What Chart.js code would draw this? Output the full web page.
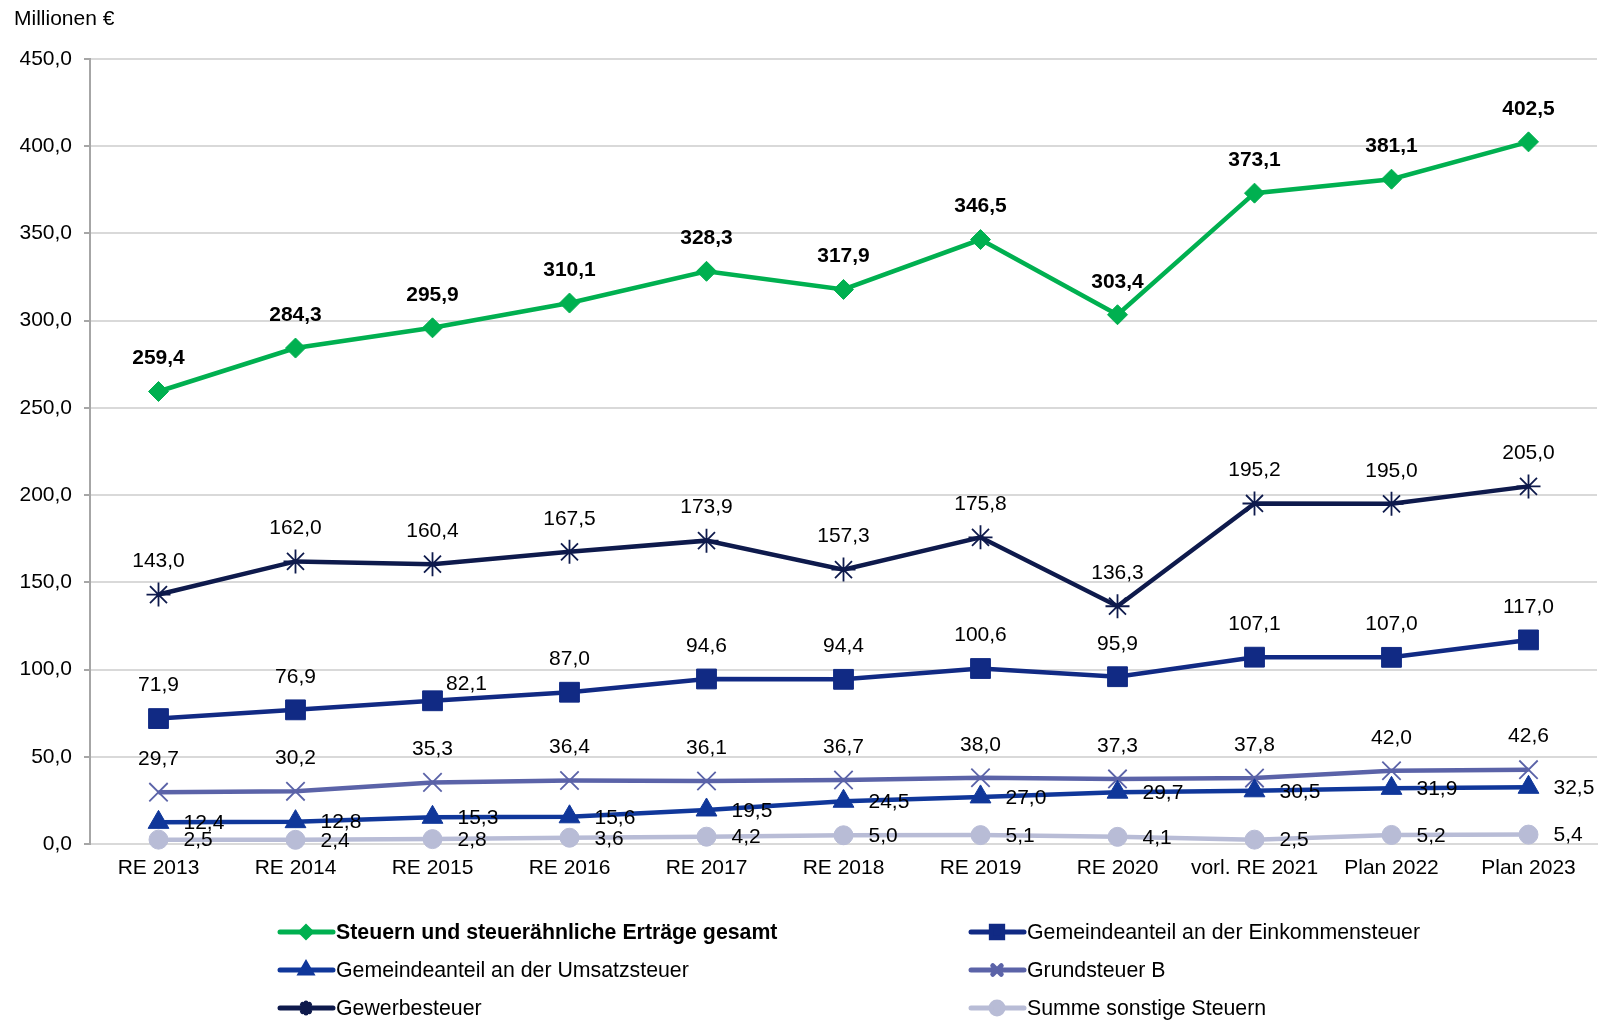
<!DOCTYPE html>
<html>
<head>
<meta charset="utf-8">
<script src="https://cdn.jsdelivr.net/npm/chart.js@4/dist/chart.umd.min.js"></script>
<style>
  html, body { margin: 0; padding: 0; background: #fff; overflow: hidden; }
  #myChart { display: block; }
</style>
</head>
<body>
<canvas id="myChart" width="1603" height="1020"></canvas>
<script>
var years = ['RE 2013', 'RE 2014', 'RE 2015', 'RE 2016', 'RE 2017', 'RE 2018', 'RE 2019', 'RE 2020', 'vorl. RE 2021', 'Plan 2022', 'Plan 2023'];

var gesamt = [259.4, 284.3, 295.9, 310.1, 328.3, 317.9, 346.5, 303.4, 373.1, 381.1, 402.5];
var einkommen = [71.9, 76.9, 82.1, 87.0, 94.6, 94.4, 100.6, 95.9, 107.1, 107.0, 117.0];
var umsatz = [12.4, 12.8, 15.3, 15.6, 19.5, 24.5, 27.0, 29.7, 30.5, 31.9, 32.5];
var grundB = [29.7, 30.2, 35.3, 36.4, 36.1, 36.7, 38.0, 37.3, 37.8, 42.0, 42.6];
var gewerbe = [143.0, 162.0, 160.4, 167.5, 173.9, 157.3, 175.8, 136.3, 195.2, 195.0, 205.0];
var sonstige = [2.5, 2.4, 2.8, 3.6, 4.2, 5.0, 5.1, 4.1, 2.5, 5.2, 5.4];

var FONT = '"Liberation Sans", Arial, sans-serif';

function fmt(v) {
  return v.toFixed(1).replace('.', ',');
}

// labels, legend and the unit text, drawn straight on the canvas
var extras = {
  id: 'extras',
  afterDatasetsDraw(chart) {
    var ctx = chart.ctx;
    ctx.save();
    chart.data.datasets.forEach(function(ds, i) {
      var meta = chart.getDatasetMeta(i);
      ctx.font = (ds.labelBold ? 'bold ' : '') + '21px ' + FONT;
      ctx.fillStyle = '#000';
      meta.data.forEach(function(pt, j) {
        var txt = fmt(ds.data[j]);
        if (ds.labelPos === 'right') {
          ctx.textAlign = 'left';
          ctx.textBaseline = 'middle';
          ctx.fillText(txt, pt.x + 25, pt.y + 1);
        } else {
          ctx.textAlign = 'center';
          ctx.textBaseline = 'middle';
          var dx = 0, dy = -33;
          // this one was moved aside in the original
          if (ds.label.indexOf('Einkommen') >= 0 && j === 2) { dx = 34; dy = -17; }
          ctx.fillText(txt, pt.x + dx, pt.y + dy);
        }
      });
    });

    // unit
    ctx.font = '21px ' + FONT;
    ctx.textAlign = 'left';
    ctx.textBaseline = 'middle';
    ctx.fillText('Millionen €', 14, 19);

    // legend, two columns
    var cols = [278, 969];
    var rows = [932, 970, 1008];
    chart.data.datasets.forEach(function(ds, i) {
      var x = cols[i % 2], y = rows[Math.floor(i / 2)];
      ctx.strokeStyle = ds.borderColor;
      ctx.lineWidth = 5;
      ctx.lineCap = 'round';
      ctx.beginPath();
      ctx.moveTo(x + 2, y);
      ctx.lineTo(x + 55, y);
      ctx.stroke();
      ctx.fillStyle = ds.backgroundColor;
      ctx.strokeStyle = ds.borderColor;
      Chart.helpers.drawPoint(ctx, {
        pointStyle: ds.pointStyle,
        radius: ds.legendRadius,
        rotation: 0,
        borderWidth: 1.5
      }, x + 28, y);
      ctx.fillStyle = '#000';
      ctx.font = (ds.labelBold ? 'bold ' : '') + '21.3px ' + FONT;
      ctx.textAlign = 'left';
      ctx.textBaseline = 'middle';
      ctx.fillText(ds.label, x + 58, y + 1);
    });
    ctx.restore();
  }
};

function series(label, data, color, style, radius, legendRadius, labelPos, bold) {
  return {
    label: label,
    data: data,
    borderColor: color,
    backgroundColor: color,
    pointBackgroundColor: color,
    pointBorderColor: color,
    borderWidth: 4.5,
    pointStyle: style,
    pointRadius: radius,
    pointHoverRadius: radius,
    pointBorderWidth: (style === 'crossRot' || style === 'star') ? 1.8 : 1,
    tension: 0,
    labelPos: labelPos,
    labelBold: bold,
    legendRadius: legendRadius
  };
}

const ctx = document.getElementById('myChart');

new Chart(ctx, {
  type: 'line',
  data: {
    labels: years,
    datasets: [
      series('Steuern und steuerähnliche Erträge gesamt', gesamt, '#00B050', 'rectRot', 10, 5, 'top', true),
      series('Gemeindeanteil an der Einkommensteuer', einkommen, '#112A84', 'rect', 14, 8, 'top', false),
      series('Gemeindeanteil an der Umsatzsteuer', umsatz, '#10379A', 'triangle', 12, 6, 'right', false),
      series('Grundsteuer B', grundB, '#5B63A8', 'crossRot', 13, 6, 'top', false),
      series('Gewerbesteuer', gewerbe, '#0E1A4C', 'star', 12, 5, 'top', false),
      series('Summe sonstige Steuern', sonstige, '#B8BCD6', 'circle', 9.5, 6, 'right', false)
    ]
  },
  options: {
    responsive: false,
    animation: false,
    clip: false,
    layout: { autoPadding: false, padding: { top: 59, left: 0, right: 6, bottom: 0 } },
    plugins: {
      legend: { display: false },
      tooltip: { enabled: false }
    },
    scales: {
      x: {
        offset: true,
        grid: { display: false, drawTicks: false },
        border: { display: true, color: '#D9D9D9', width: 2 },
        ticks: { color: '#000', font: { family: FONT, size: 21 }, padding: 12, maxRotation: 0, autoSkip: false },
        afterFit: function(scale) {
          scale.height = 176;
          scale.paddingLeft = 0;
          scale.paddingRight = 0;
        }
      },
      y: {
        min: 0,
        max: 450,
        ticks: {
          stepSize: 50,
          color: '#000',
          font: { family: FONT, size: 21 },
          padding: 12,
          callback: function(v) { return fmt(v); }
        },
        grid: { color: '#D9D9D9', lineWidth: 2, tickLength: 6, tickColor: '#A6A6A6' },
        border: { display: true, color: '#A6A6A6', width: 2 },
        afterFit: function(scale) { scale.width = 90; }
      }
    }
  },
  plugins: [extras]
});
</script>
</body>
</html>
